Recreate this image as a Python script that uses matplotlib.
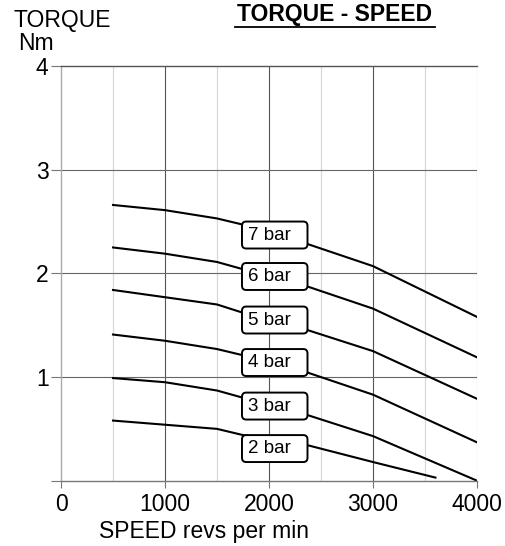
import matplotlib.pyplot as plt
from matplotlib.patches import FancyBboxPatch

plt.rcParams['font.family'] = ['Liberation Sans', 'DejaVu Sans']

# speed points (rpm)
speed = [500, 1000, 1500, 1750, 2380, 3000, 4000]
torque_7 = [2.66, 2.61, 2.53, 2.47, 2.28, 2.07, 1.58]
torque_6 = [2.25, 2.19, 2.11, 2.04, 1.87, 1.66, 1.19]
torque_5 = [1.84, 1.77, 1.70, 1.62, 1.45, 1.25, 0.79]
torque_4 = [1.41, 1.35, 1.27, 1.21, 1.04, 0.83, 0.37]
torque_3 = [0.99, 0.95, 0.87, 0.80, 0.63, 0.43, 0.00]
speed_2 = [500, 1000, 1500, 1750, 2380, 3000, 3600]
torque_2 = [0.58, 0.54, 0.50, 0.44, 0.34, 0.18, 0.03]

labels = ['7 bar', '6 bar', '5 bar', '4 bar', '3 bar', '2 bar']
label_y = [2.37, 1.97, 1.55, 1.14, 0.72, 0.31]

fig = plt.figure(figsize=(5.06, 5.46), dpi=100)
ax = fig.add_axes([0.1206, 0.1196, 0.8221, 0.7594])

ax.set_xlim(0, 4000)
ax.set_ylim(0, 4)

# grid
for x in [500, 1500, 2500, 3500, 4000]:
    ax.axvline(x, color='#d8d8d8', lw=0.9, zorder=0)
for x in [1000, 2000, 3000]:
    ax.axvline(x, color='#555555', lw=0.8, zorder=0)
for y in [1, 2, 3]:
    ax.axhline(y, color='#666666', lw=0.8, zorder=0)

ax.spines['right'].set_visible(False)
ax.spines['top'].set_color('#555555')
ax.spines['top'].set_linewidth(1.0)
ax.spines['left'].set_color('#aaaaaa')
ax.spines['left'].set_linewidth(1.0)
ax.spines['bottom'].set_color('#777777')
ax.spines['bottom'].set_linewidth(1.0)

curves = [(speed, torque_7), (speed, torque_6), (speed, torque_5),
          (speed, torque_4), (speed, torque_3), (speed_2, torque_2)]
for xs, ys in curves:
    ax.plot(xs, ys, color='black', lw=1.5, zorder=2)

# label boxes
box_x0, box_x1 = 1740, 2370
box_h = 0.26
for lab, ly in zip(labels, label_y):
    box = FancyBboxPatch((box_x0, ly - box_h / 2), box_x1 - box_x0, box_h,
                         boxstyle='round,pad=0,rounding_size=40',
                         mutation_aspect=0.00105, fc='white', ec='black',
                         lw=1.4, zorder=3)
    ax.add_patch(box)
    ax.text(box_x0 + 60, ly, lab, ha='left', va='center', fontsize=13.5, zorder=4)

ax.set_xticks([0, 1000, 2000, 3000, 4000])
ax.set_yticks([0, 1, 2, 3, 4])
ax.set_yticklabels(['', '1', '2', '3', '4'])
ax.tick_params(axis='x', direction='out', length=5, color='#777777', labelsize=16.5, pad=4)
ax.tick_params(axis='y', direction='out', length=7, color='#777777', labelsize=16.5, pad=2)

ax.set_xlabel('SPEED revs per min', fontsize=16.5, labelpad=3, x=0.343)

fig.text(0.026, 0.963, 'TORQUE', fontsize=16.5, ha='left', va='center')
fig.text(0.036, 0.921, 'Nm', fontsize=16.5, ha='left', va='center')
fig.text(0.662, 0.973, 'TORQUE - SPEED', fontsize=16.5, fontweight='bold',
         ha='center', va='center')
fig.add_artist(plt.Line2D([0.464, 0.860], [0.951, 0.951], color='black', lw=1.3))

fig.savefig('out.png', dpi=100)
